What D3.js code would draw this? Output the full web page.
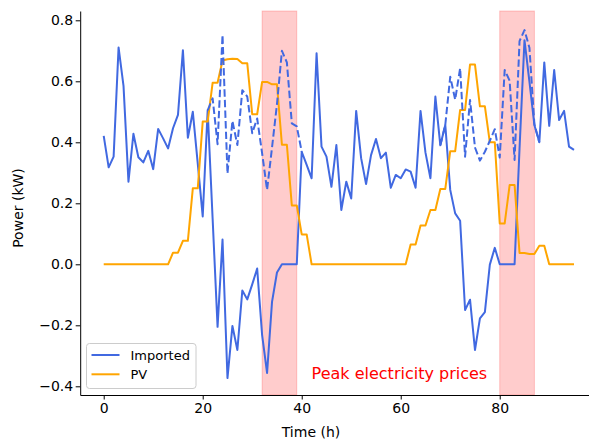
<!DOCTYPE html>
<html>
<head>
<meta charset="utf-8">
<script src="https://cdn.jsdelivr.net/npm/d3@7"></script>
<style>
  html, body { margin: 0; padding: 0; background: #fff; }
  svg { display: block; font-family: "DejaVu Sans", sans-serif; }
</style>
</head>
<body>
<svg id="chart" width="589" height="444"></svg>
<script>
// Hourly power flows over four days (kW)
const hours = d3.range(0, 96);

const imported = [
  0.421, 0.318, 0.353, 0.711, 0.585, 0.271, 0.428, 0.351, 0.334, 0.372,
  0.312, 0.444, 0.413, 0.380, 0.446, 0.490, 0.702, 0.415, 0.500, 0.330,
  0.157, 0.505, 0.150, -0.205, 0.081, -0.373, -0.202, -0.281, -0.086, -0.115,
  -0.066, -0.014, -0.232, -0.356, -0.123, -0.027, 0.000, 0.000, 0.000, 0.000,
  0.369, 0.326, 0.282, 0.692, 0.386, 0.353, 0.254, 0.391, 0.178, 0.271,
  0.216, 0.503, 0.348, 0.263, 0.358, 0.411, 0.348, 0.366, 0.251, 0.293,
  0.282, 0.311, 0.304, 0.251, 0.503, 0.366, 0.282, 0.550, 0.390, 0.457,
  0.244, 0.167, 0.143, -0.150, -0.116, -0.281, -0.177, -0.157, -0.001, 0.054,
  0.000, 0.000, 0.000, 0.000, 0.380, 0.735, 0.599, 0.457, 0.400, 0.662,
  0.454, 0.637, 0.473, 0.503, 0.386, 0.375
];

const pv = [
  0, 0, 0, 0, 0, 0, 0, 0, 0, 0,
  0, 0, 0, 0, 0.038, 0.038, 0.077, 0.077, 0.249, 0.249,
  0.468, 0.468, 0.595, 0.595, 0.668, 0.672, 0.674, 0.673, 0.659, 0.659,
  0.492, 0.492, 0.598, 0.598, 0.590, 0.590, 0.392, 0.392, 0.193, 0.193,
  0.098, 0.098, 0, 0, 0, 0, 0, 0, 0, 0,
  0, 0, 0, 0, 0, 0, 0, 0, 0, 0,
  0, 0, 0.065, 0.065, 0.127, 0.127, 0.178, 0.178, 0.247, 0.247,
  0.371, 0.371, 0.506, 0.506, 0.655, 0.655, 0.518, 0.518, 0.400, 0.400,
  0.134, 0.134, 0.260, 0.260, 0.037, 0.037, 0.034, 0.034, 0.061, 0.061,
  0, 0, 0, 0, 0, 0
];

// Grid import without the battery, only where it differs from the imported line
const importedNoBattery = [
  null, null, null, null, null, null, null, null, null, null,
  null, null, null, null, null, null, null, null, null, null,
  null, 0.505, 0.544, 0.394, 0.752, 0.298, 0.470, 0.391, 0.571, 0.550,
  0.430, 0.478, 0.364, 0.244, 0.383, 0.525, 0.700, 0.662, 0.462, 0.452,
  0.369, null, null, null, null, null, null, null, null, null,
  null, null, null, null, null, null, null, null, null, null,
  null, null, null, null, null, null, null, null, 0.390, 0.457,
  0.615, 0.540, 0.643, 0.353, 0.539, 0.383, 0.340, 0.369, 0.405, 0.443,
  0.350, 0.637, 0.602, 0.342, 0.732, 0.768, 0.710, 0.460, 0.400, null,
  null, null, null, null, null, null
];

// Peak-price windows [start, end] in hours
const peakWindows = [[32, 39], [80, 87]];

const xTicks = [0, 20, 40, 60, 80];
const yTicks = [-0.4, -0.2, 0.0, 0.2, 0.4, 0.6, 0.8];

const svg = d3.select("#chart");

const x = d3.scaleLinear().domain([-4.75, 99.75]).range([80.2, 597.5]);
const y = d3.scaleLinear().domain([-0.4285, 0.8305]).range([395, 11]);

const tickFont = 14;
const labelFont = 14;
const legendFont = 13;

// Shaded peak-price windows
svg.append("g").selectAll("rect")
  .data(peakWindows)
  .join("rect")
  .attr("x", d => x(d[0]))
  .attr("width", d => x(d[1]) - x(d[0]))
  .attr("y", y.range()[1])
  .attr("height", y.range()[0] - y.range()[1])
  .attr("fill", "red")
  .attr("fill-opacity", 0.2)
  .attr("stroke", "red")
  .attr("stroke-opacity", 0.2)
  .attr("stroke-width", 1);

const line = d3.line()
  .defined(d => d[1] !== null)
  .x(d => x(d[0]))
  .y(d => y(d[1]));

svg.append("path")
  .datum(hours.map((h, i) => [h, imported[i]]))
  .attr("d", line)
  .attr("fill", "none")
  .attr("stroke", "royalblue")
  .attr("stroke-width", 2)
  .attr("stroke-linejoin", "round");

svg.append("path")
  .datum(hours.map((h, i) => [h, pv[i]]))
  .attr("d", line)
  .attr("fill", "none")
  .attr("stroke", "orange")
  .attr("stroke-width", 2)
  .attr("stroke-linejoin", "round");

svg.append("path")
  .datum(hours.map((h, i) => [h, importedNoBattery[i]]))
  .attr("d", line)
  .attr("fill", "none")
  .attr("stroke", "royalblue")
  .attr("stroke-width", 2)
  .attr("stroke-dasharray", "7.4,3.2")
  .attr("stroke-linejoin", "round");

// Axes
const xAxis = svg.append("g")
  .attr("transform", `translate(0,${y.range()[0]})`)
  .call(d3.axisBottom(x).tickValues(xTicks).tickFormat(d3.format("d"))
    .tickSize(4.5).tickSizeOuter(0).tickPadding(4));

const yAxis = svg.append("g")
  .attr("transform", `translate(${x.range()[0]},0)`)
  .call(d3.axisLeft(y).tickValues(yTicks).tickFormat(d3.format(".1f"))
    .tickSize(4.5).tickSizeOuter(0).tickPadding(2.5));

[xAxis, yAxis].forEach(g => {
  g.selectAll("text")
    .attr("font-family", "DejaVu Sans")
    .attr("font-size", tickFont)
    .attr("fill", "#000");
  g.selectAll("line").attr("stroke", "#000").attr("stroke-width", 1);
  g.select(".domain").attr("stroke", "#000").attr("stroke-width", 1);
});

svg.append("text")
  .attr("x", 311)
  .attr("y", 437)
  .attr("text-anchor", "middle")
  .attr("font-size", labelFont)
  .text("Time (h)");

svg.append("text")
  .attr("transform", "translate(23,208) rotate(-90)")
  .attr("text-anchor", "middle")
  .attr("font-size", labelFont)
  .text("Power (kW)");

// Annotation
svg.append("text")
  .attr("x", x(42))
  .attr("y", y(-0.376))
  .attr("font-size", 16)
  .attr("fill", "red")
  .text("Peak electricity prices");

// Legend
const legendItems = [
  { label: "Imported", color: "royalblue" },
  { label: "PV", color: "orange" }
];

const legend = svg.append("g").attr("transform", "translate(86.5,343.5)");
legend.append("rect")
  .attr("width", 109.5)
  .attr("height", 45)
  .attr("rx", 3)
  .attr("fill", "#fff")
  .attr("fill-opacity", 0.8)
  .attr("stroke", "#cccccc")
  .attr("stroke-width", 1);

const items = legend.selectAll("g.item")
  .data(legendItems)
  .join("g")
  .attr("class", "item")
  .attr("transform", (d, i) => `translate(0,${11.5 + i * 19.3})`);

items.append("line")
  .attr("x1", 5).attr("x2", 33)
  .attr("stroke", d => d.color)
  .attr("stroke-width", 2);

items.append("text")
  .attr("x", 44)
  .attr("y", 4.6)
  .attr("font-size", legendFont)
  .text(d => d.label);
</script>
</body>
</html>
